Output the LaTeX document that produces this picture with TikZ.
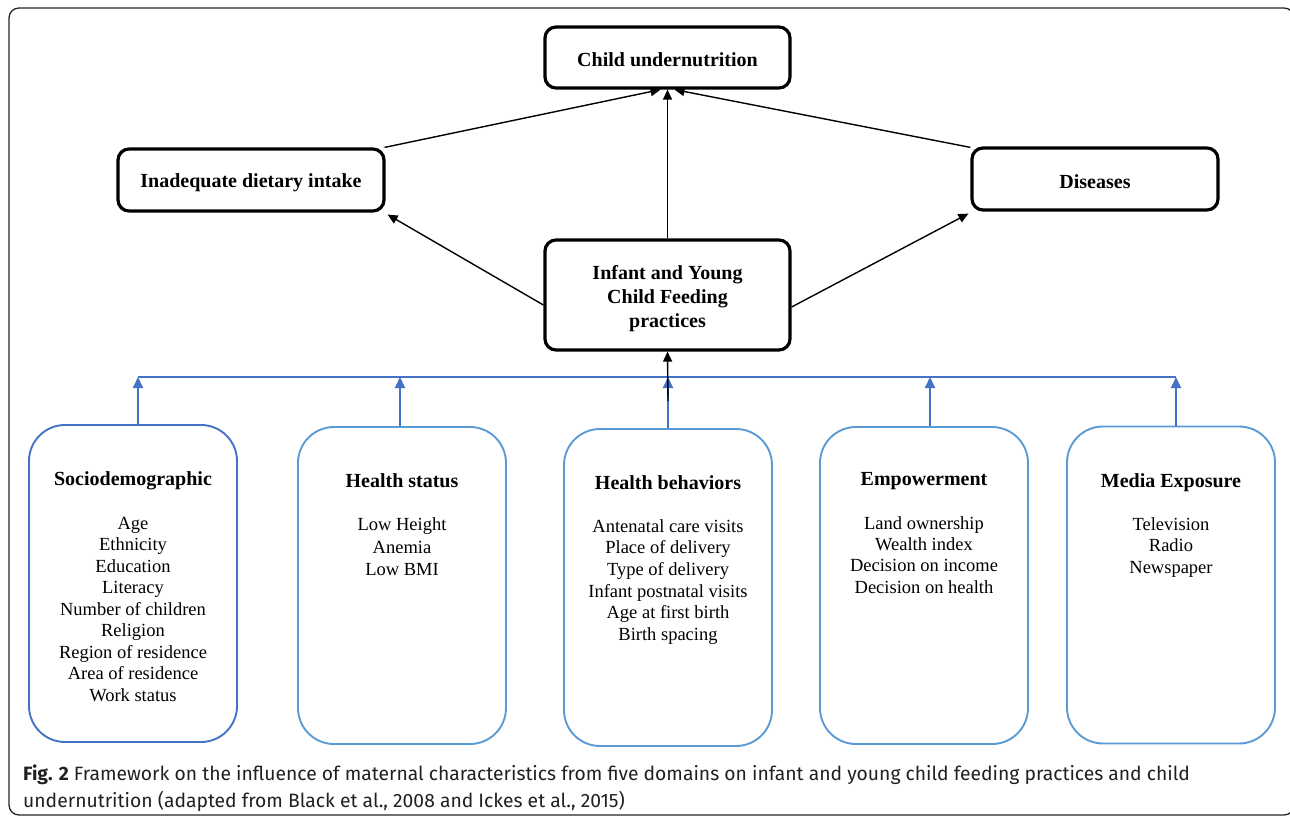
\documentclass[tikz,border=0pt]{standalone}
\usepackage{fontspec}
\setmainfont{Liberation Serif}
\newfontfamily\capfont{Fira Sans}
\usetikzlibrary{arrows.meta}
\definecolor{dblue}{HTML}{4472C4}
\definecolor{lblue}{HTML}{5B9BD5}
\definecolor{capgray}{HTML}{231F20}
\begin{document}
\begin{tikzpicture}[x=1pt,y=-1pt,
  topbox/.style={draw=black, line width=3.2pt, rounded corners=11pt, inner sep=0pt},
  domain/.style={draw=#1, line width=1.9pt, rounded corners=36pt, minimum width=208pt, minimum height=317pt, inner sep=0pt},
  ttl/.style={font=\bfseries\fontsize{20}{24}\selectfont, align=center, inner sep=0pt},
  items/.style={font=\fontsize{18.5}{21.5}\selectfont, align=center, inner sep=0pt, anchor=north},
  blk/.style={draw=black, line width=1.4pt, -{Triangle[length=10pt,width=9pt]}},
  blu/.style={draw=dblue, line width=2pt, -{Triangle[length=11pt,width=10pt]}},
  captext/.style={font=\capfont\fontsize{19.3}{27}\selectfont, text=capgray, inner sep=0pt, anchor=base west}]
\useasboundingbox (0,0) rectangle (1290,816);
\draw[line width=1.3pt, draw=black!85, rounded corners=10pt] (9,8) rectangle (1294,815);

% top level boxes
\node[topbox, minimum width=245pt, minimum height=61pt] (child) at (667.5,57.5) {};
\node[ttl] (childT) at (667.5,59.5) {Child undernutrition};
\node[topbox, minimum width=266pt, minimum height=62pt] (inad) at (251,180) {};
\node[ttl] (inadT) at (251,182.5) {Inadequate dietary intake};
\node[topbox, minimum width=246pt, minimum height=62pt] (dis) at (1095,179) {};
\node[ttl] (disT) at (1095,181.5) {Diseases};
\node[topbox, minimum width=245pt, minimum height=110pt] (iycf) at (667.5,295) {};
\node[ttl] (iycfT) at (667.5,299) {Infant and Young\\Child Feeding\\practices};

% domain boxes
\node[domain=dblue] (socio) at (133,583.5) {};
\node[domain=lblue] (hstat) at (402,585.5) {};
\node[domain=lblue] (behav) at (668,587.5) {};
\node[domain=lblue] (emp) at (924,585.5) {};
\node[domain=lblue] (media) at (1171,585) {};

\node[ttl] (socioT) at (133,480.5) {Sociodemographic};
\node[items] (socioI) at (133,514) {\strut Age\\Ethnicity\\Education\\Literacy\\Number of children\\Religion\\Region of residence\\Area of residence\\Work status};
\node[ttl] (hstatT) at (402,481) {Health status};
\node[items, font=\fontsize{18.5}{22.3}\selectfont] (hstatI) at (402,515) {\strut Low Height\\Anemia\\Low BMI};
\node[ttl] (behavT) at (668,483) {Health behaviors};
\node[items, font=\fontsize{18.5}{21.6}\selectfont] (behavI) at (668,517) {\strut Antenatal care visits\\Place of delivery\\Type of delivery\\Infant postnatal visits\\Age at first birth\\Birth spacing};
\node[ttl] (empT) at (924,481.5) {Empowerment};
\node[items, font=\fontsize{18.5}{21.3}\selectfont] (empI) at (924,514) {\strut Land ownership\\Wealth index\\Decision on income\\Decision on health};
\node[ttl] (mediaT) at (1171,483) {Media Exposure};
\node[items] (mediaI) at (1171,515) {\strut Television\\Radio\\Newspaper};

% junction line
\coordinate (j1) at (138,377);
\coordinate (j2) at (400,377);
\coordinate (j3) at (668,377);
\coordinate (j4) at (930,377);
\coordinate (j5) at (1176,377);
\draw[draw=dblue, line width=1.2pt] (j1) -- (j5);
\draw[blu] (j1 |- socio.north) -- (j1);
\draw[blu] (j2 |- hstat.north) -- (j2);
\draw[blu] (j3 |- behav.north) -- (j3);
\draw[blu] (j4 |- emp.north) -- (j4);
\draw[blu] (j5 |- media.north) -- (j5);
\coordinate (bstart) at (668,401);
\draw[blk] (bstart) -- (iycf.south);

% upper arrows
\draw[blk] (iycf.north) -- (child.south);
\draw[blk] ([xshift=-1pt]inad.north east) -- ([xshift=-7pt]child.south);
\draw[blk] ([yshift=-1pt]dis.north west) -- ([xshift=7pt]child.south);
\draw[blk] ([yshift=-10pt]iycf.west) -- ([xshift=2pt,yshift=-2pt]inad.south east);
\draw[blk] ([yshift=-12pt]iycf.east) -- ([xshift=-2pt,yshift=-2pt]dis.south west);

% caption
\node[captext] (cap1) at (23,780) {\textbf{Fig. 2} Framework on the influence of maternal characteristics from five domains on infant and young child feeding practices and child};
\node[captext] (cap2) at (23,807) {undernutrition (adapted from Black et al., 2008 and Ickes et al., 2015)};
\end{tikzpicture}
\end{document}
